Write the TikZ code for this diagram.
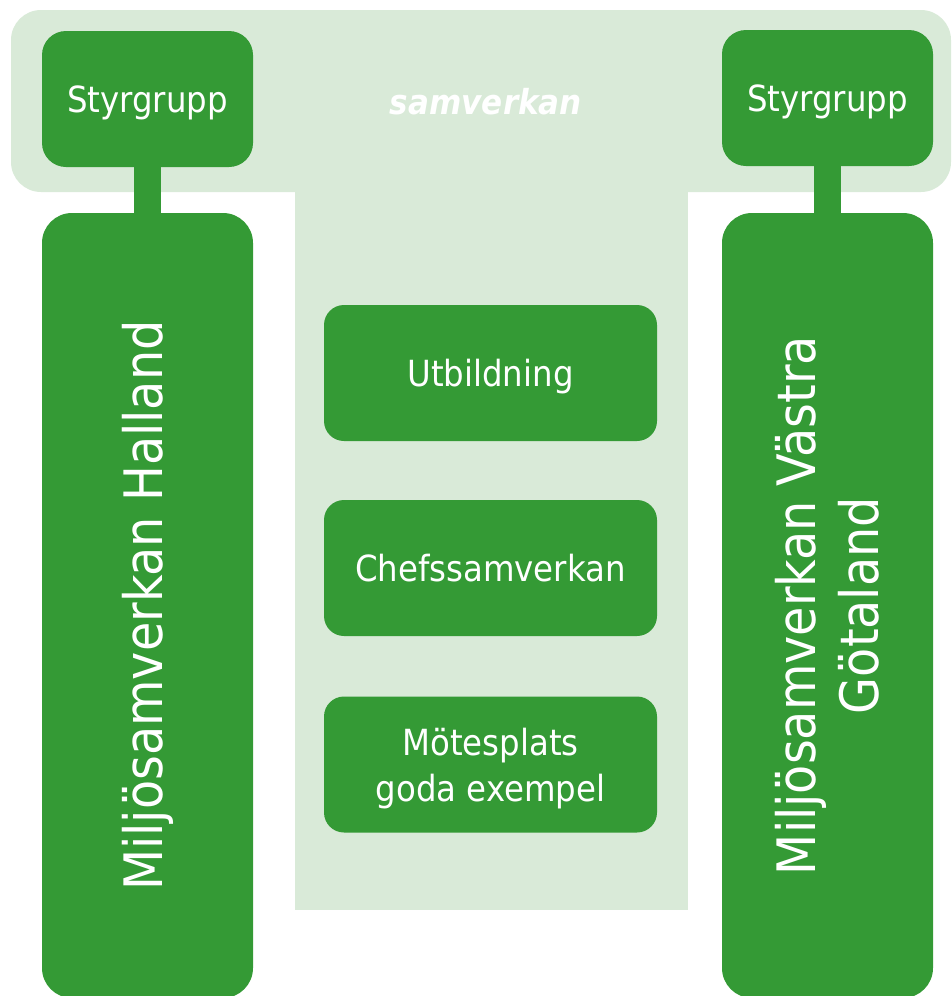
\documentclass[tikz,border=0pt]{standalone}
\usepackage{fontspec}
\setmainfont{DejaVu Sans Condensed}
\definecolor{dkgreen}{RGB}{52,154,53}
\definecolor{ltgreen}{RGB}{217,234,216}
\begin{document}
\begin{tikzpicture}[x=1pt,y=-1pt,
  box/.style={draw=none,fill=dkgreen,rounded corners=24pt,text=white,inner sep=0pt,align=center},
  sgbox/.style={box,minimum width=211pt,minimum height=136pt,text depth=0pt,font=\fontsize{36}{42}\selectfont},
  colbox/.style={box,minimum width=211pt,minimum height=785pt,rounded corners=30pt},
  midbox/.style={box,minimum width=333pt,minimum height=136pt,rounded corners=20pt,text depth=0pt,font=\fontsize{36}{46}\selectfont},
  link/.style={draw=dkgreen,line width=27pt}]
\useasboundingbox (0,0) rectangle (952,996);
% background band and centre panel
\fill[ltgreen,rounded corners=30pt] (11,10) rectangle (951,192);
\fill[ltgreen] (295,180) rectangle (688,910);
\node[font=\fontsize{34.5}{40}\selectfont\bfseries\itshape,text=white,text depth=0pt] (samv) at (486,101) {samverkan};
% Styrgrupp boxes
\node[sgbox] (sgl) at (147.5,99) {Styrgrupp};
\node[sgbox] (sgr) at (827.5,98) {Styrgrupp};
% columns
\node[colbox] (coll) at (147.5,605.5) {};
\node[colbox] (colr) at (827.5,605.5) {};
\node[rotate=90,text=white,font=\fontsize{53}{63}\selectfont] (tl) at (coll.center) {Miljösamverkan Halland};
\node[rotate=90,text=white,align=center,font=\fontsize{53}{63}\selectfont] (tr) at (colr.center) {Miljösamverkan Västra\\Götaland};
% connectors
\draw[link] (sgl.south) -- (coll.north);
\draw[link] (sgr.south) -- (colr.north);
% middle boxes
\node[midbox] (utb) at (490.5,373) {Utbildning};
\node[midbox] (chef) at (490.5,568) {Chefssamverkan};
\node[midbox] (mote) at (490.5,764.5) {Mötesplats\\goda exempel};
\end{tikzpicture}
\end{document}
